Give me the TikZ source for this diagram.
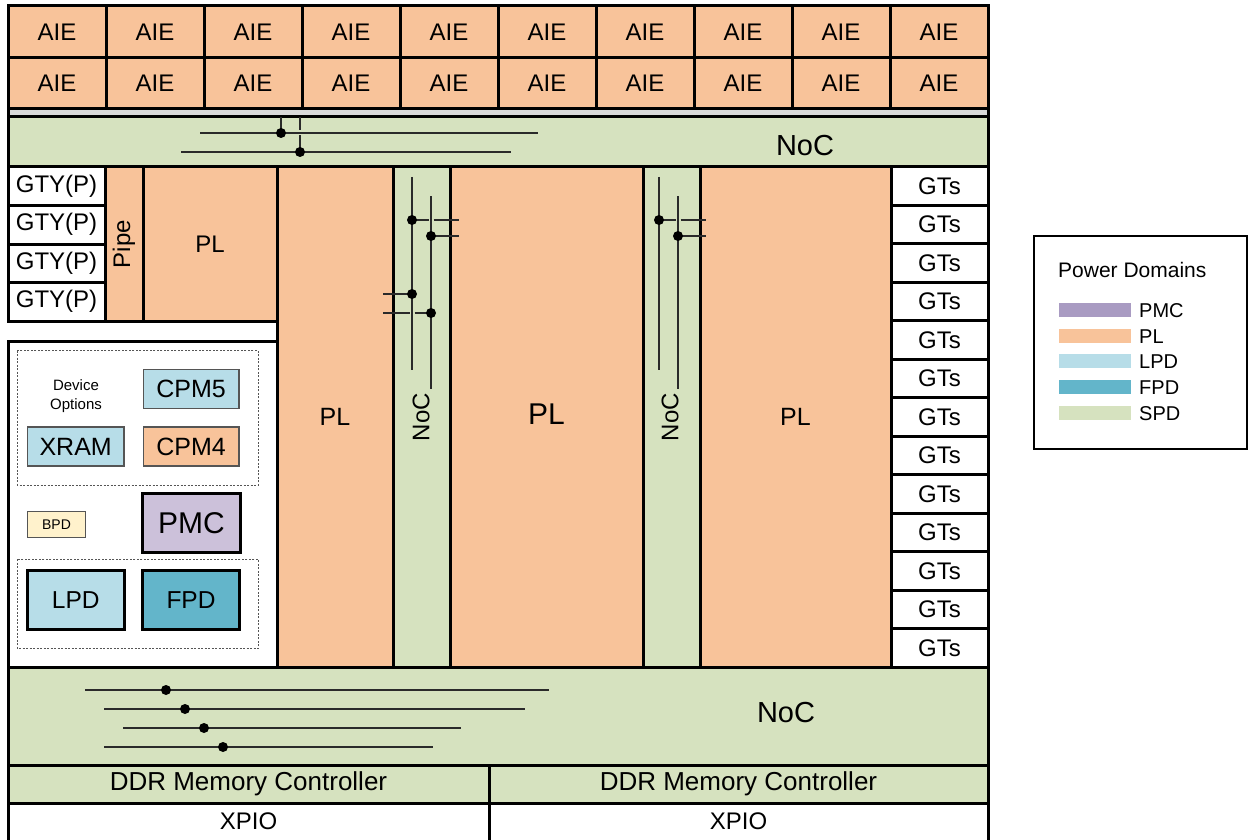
\documentclass[tikz,border=0pt]{standalone}
\usepackage{fontspec}
\setmainfont{Liberation Sans}
\definecolor{plc}{HTML}{F8C39A}
\definecolor{spd}{HTML}{D6E2BF}
\definecolor{lpd}{HTML}{B7DDE8}
\definecolor{fpd}{HTML}{63B5CA}
\definecolor{pmcb}{HTML}{CCC1DA}
\definecolor{pmcl}{HTML}{A99BC2}
\definecolor{bpd}{HTML}{FFF2CC}
\definecolor{strip}{HTML}{D9D9D9}
\definecolor{wire}{HTML}{2A2A2A}
\definecolor{thin}{HTML}{555555}
\newcommand\cell[7]{\node[blk, fill=#6, minimum width=#4pt, minimum height=#5pt] (#1) at (#2,#3) {#7};}
\newcommand\tcell[7]{\node[tblk, fill=#6, minimum width=#4pt, minimum height=#5pt] (#1) at (#2,#3) {#7};}
\tikzset{
  blk/.style={draw=black, line width=3pt, inner sep=0pt, outer sep=0pt, anchor=north west, font=\fontsize{24}{29}\selectfont},
  tblk/.style={draw=thin, line width=1.5pt, inner sep=0pt, outer sep=0pt, anchor=north west, font=\fontsize{25}{30}\selectfont},
  lbl/.style={inner sep=0pt, font=\fontsize{24}{29}\selectfont},
  wire/.style={draw=wire, line width=1.5pt},
  dot/.style={circle, fill=black, inner sep=0pt, minimum size=10pt},
  dbox/.style={draw=thin, line width=0.9pt, dash pattern=on 2pt off 1.5pt},
  sw/.style={inner sep=0pt, minimum width=72.5pt, minimum height=13.5pt, anchor=west},
  legt/.style={inner sep=0pt, anchor=west, font=\fontsize{20}{24}\selectfont}
}
\begin{document}
\begin{tikzpicture}[x=1pt, y=-1pt]
\useasboundingbox (0,0) rectangle (1248,840);
\fill[white] (0,0) rectangle (1248,840);
% AIE rows
\foreach \i in {0,...,9} {
  \cell{aieA\i}{8+\i*98}{6}{98}{52}{plc}{AIE}
  \cell{aieB\i}{8+\i*98}{58}{98}{51}{plc}{AIE}
}
\cell{strip}{8}{109}{980}{8}{strip}{}
% top NoC
\cell{noctop}{8}{117}{980}{50}{spd}{}
\node[lbl, font=\fontsize{29}{34}\selectfont] (noctopt) at (805,146) {NoC};
% GTY
\foreach \k in {0,...,3} {
  \cell{gty\k}{8}{167+\k*38.5}{97}{38.5}{white}{GTY(P)}
}
\cell{pipe}{105}{167}{38}{154}{plc}{}
\node[lbl, rotate=90] (pipet) at (124,244) {Pipe};
\cell{plsmall}{143}{167}{134}{154}{plc}{PL}
% left panel
\cell{panel}{8}{341}{269}{326}{white}{}
% columns
\cell{plA}{277}{167}{116}{500}{plc}{\fontsize{25}{30}\selectfont PL}
\cell{nocA}{393}{167}{57}{500}{spd}{}
\cell{plB}{450}{167}{193}{500}{plc}{}
\node[lbl, font=\fontsize{30}{36}\selectfont] (plBt) at (546.5,414) {PL};
\cell{nocB}{643}{167}{57}{500}{spd}{}
\cell{plC}{700}{167}{191}{500}{plc}{\fontsize{25}{30}\selectfont PL}
\node[lbl, rotate=90] (nocAt) at (421,417) {NoC};
\node[lbl, rotate=90] (nocBt) at (670,417) {NoC};
% GTs
\foreach \k in {0,...,12} {
  \cell{gt\k}{891}{167+\k*38.4615}{97}{38.4615}{white}{GTs}
}
% bottom
\cell{nocbot}{8}{667}{980}{98}{spd}{}
\node[lbl, font=\fontsize{29}{34}\selectfont] (nocbott) at (786,713) {NoC};
\cell{ddrA}{8}{765}{481}{38}{spd}{\fontsize{26}{31}\selectfont DDR Memory Controller}
\cell{ddrB}{489}{765}{499}{38}{spd}{\fontsize{26}{31}\selectfont DDR Memory Controller}
\node[blk, fill=white, minimum width=481pt, minimum height=42pt, text height=17pt, text depth=6pt] (xpioA) at (8,803) {XPIO};
\node[blk, fill=white, minimum width=499pt, minimum height=42pt, text height=17pt, text depth=6pt] (xpioB) at (489,803) {XPIO};
% left panel contents
\draw[dbox] (17.3,350.7) rectangle (258.3,485);
\node[lbl, align=center, font=\fontsize{15}{19}\selectfont] (devopt) at (76,396.5) {Device\\Options};
\tcell{cpm5}{143.3}{369.3}{95.7}{39}{lpd}{CPM5}
\tcell{xram}{27.3}{427}{96.7}{39}{lpd}{XRAM}
\tcell{cpm4}{143.3}{427}{95.7}{39}{plc}{CPM4}
\node[tblk, fill=bpd, minimum width=58.4pt, minimum height=25.6pt, font=\fontsize{14}{17}\selectfont] (bpd) at (27.3,511.7) {BPD};
\node[blk, fill=pmcb, minimum width=97.3pt, minimum height=59pt, font=\fontsize{30}{36}\selectfont] (pmc) at (142.7,493.3) {PMC};
\draw[dbox] (17.3,559) rectangle (258.3,648.3);
\node[blk, fill=lpd, minimum width=97pt, minimum height=58.6pt, font=\fontsize{24.5}{29}\selectfont] (lpd) at (27.3,570.7) {LPD};
\node[blk, fill=fpd, minimum width=96.6pt, minimum height=58.6pt, font=\fontsize{24.5}{29}\selectfont] (fpd) at (142.7,570.7) {FPD};
% top NoC wires
\draw[wire] (200,133) -- (538,133);
\draw[wire] (181,152) -- (511,152);
\draw[wire] (281,117) -- (281,133);
\draw[wire] (300,117) -- (300,130.5) (300,135.5) -- (300,152);
\node[dot] (t1) at (281,133) {};
\node[dot] (t2) at (300,152) {};
% vertical NoC A wires
\draw[wire] (412,177) -- (412,370);
\draw[wire] (431,196) -- (431,389);
\draw[wire] (412,220) -- (428.5,220) (433.5,220) -- (459,220);
\draw[wire] (431,236) -- (459,236);
\draw[wire] (383,294) -- (412,294);
\draw[wire] (383,313) -- (409.5,313) (414.5,313) -- (431,313);
\node[dot] (a1) at (412,220) {};
\node[dot] (a2) at (431,236) {};
\node[dot] (a3) at (412,294) {};
\node[dot] (a4) at (431,313) {};
% vertical NoC B wires
\draw[wire] (659,177) -- (659,370);
\draw[wire] (678,196) -- (678,389);
\draw[wire] (659,220) -- (675.5,220) (680.5,220) -- (706,220);
\draw[wire] (678,236) -- (706,236);
\node[dot] (b1) at (659,220) {};
\node[dot] (b2) at (678,236) {};
% bottom NoC wires
\draw[wire] (85,690) -- (549,690);
\draw[wire] (104,709) -- (525,709);
\draw[wire] (123,728) -- (461,728);
\draw[wire] (104,747) -- (433,747);
\node[dot] (c1) at (166,690) {};
\node[dot] (c2) at (185,709) {};
\node[dot] (c3) at (204,728) {};
\node[dot] (c4) at (223,747) {};
% legend
\draw[line width=2pt] (1034,236) rectangle (1246.5,449);
\node[legt, font=\fontsize{21}{25}\selectfont] (legtitle) at (1058,270) {Power Domains};
\node[sw, fill=pmcl] (swpmc) at (1058.3,310) {};
\node[sw, fill=plc] (swpl) at (1058.3,336) {};
\node[sw, fill=lpd] (swlpd) at (1058.3,361) {};
\node[sw, fill=fpd] (swfpd) at (1058.3,387) {};
\node[sw, fill=spd] (swspd) at (1058.3,413) {};
\node[legt] (lpmc) at (1139,311) {PMC};
\node[legt] (lpl) at (1139,337) {PL};
\node[legt] (llpd) at (1139,362) {LPD};
\node[legt] (lfpd) at (1139,388) {FPD};
\node[legt] (lspd) at (1139,414) {SPD};
\end{tikzpicture}
\end{document}
